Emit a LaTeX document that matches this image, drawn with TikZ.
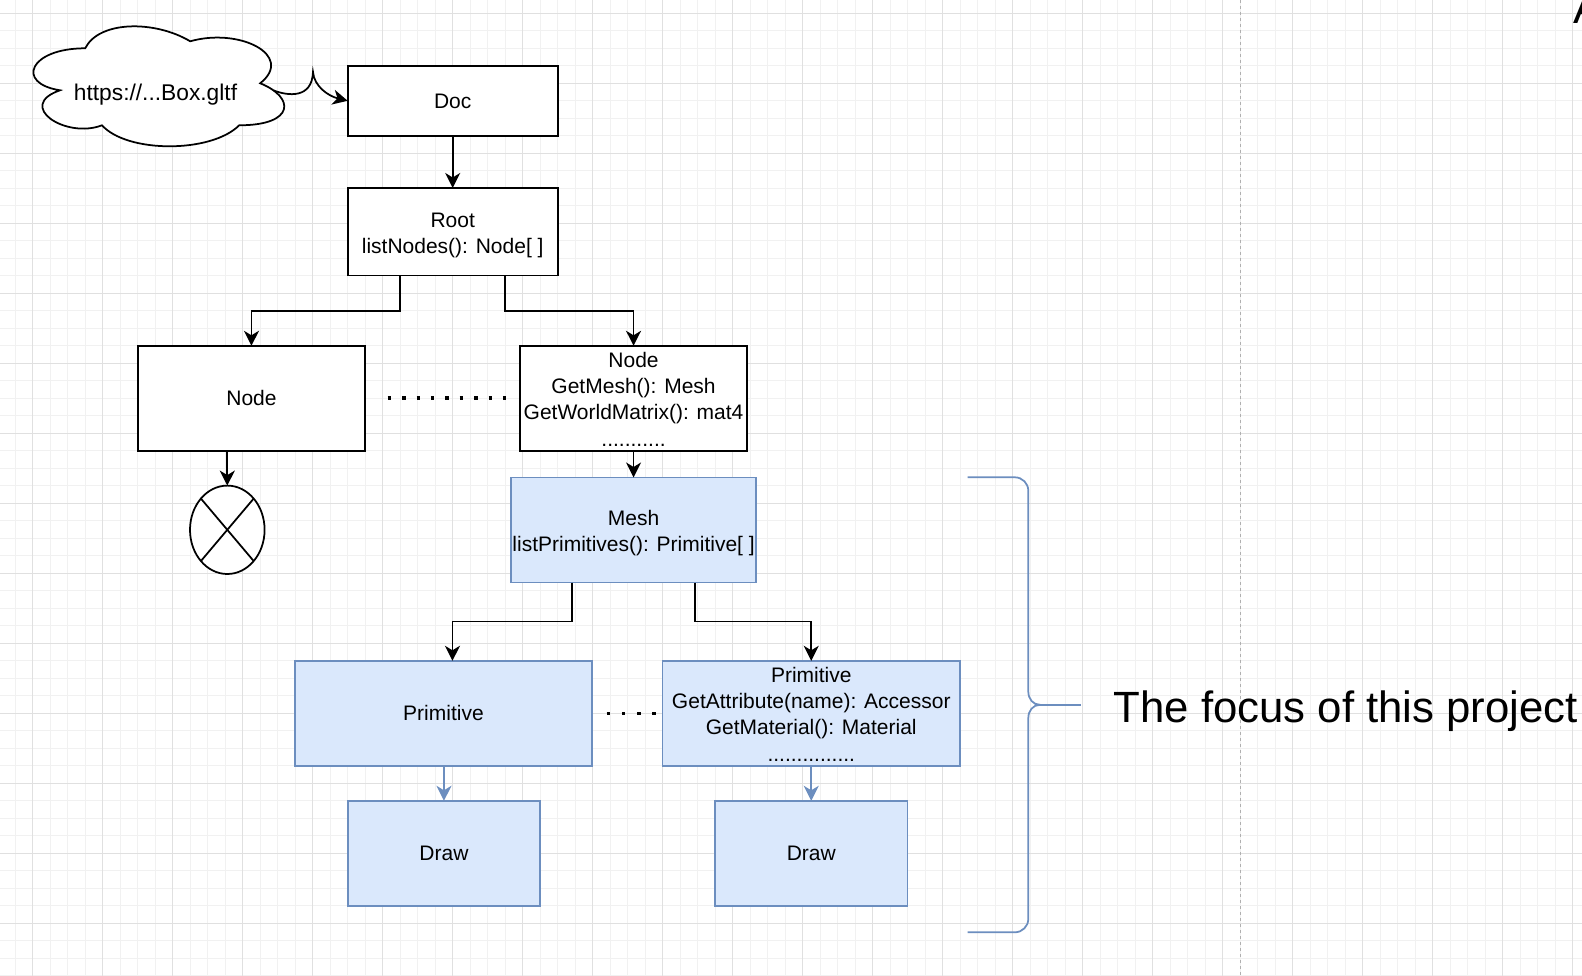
\documentclass[tikz,border=0pt]{standalone}
\usepackage{fontspec}
\setmainfont{Liberation Sans}
\usetikzlibrary{arrows.meta,shapes.geometric}
\definecolor{bluefill}{HTML}{DAE8FC}
\definecolor{bluedraw}{HTML}{6C8EBF}
\definecolor{gridminor}{HTML}{F1F1F1}
\definecolor{gridmajor}{HTML}{E0E0E0}
\definecolor{pagebreak}{HTML}{B0B0B0}
\newcommand{\mlstrut}{\rule[-3.9pt]{0pt}{25.7pt}}
\newcommand{\slstrut}{\rule[-5.2pt]{0pt}{25.7pt}}
\tikzset{
  box/.style={draw=black, line width=1.75pt, fill=white, inner sep=0pt, outer sep=0pt,
    anchor=north west, align=center, text=black, font=\fontsize{21}{25.7}\selectfont},
  bluebox/.style={box, draw=bluedraw, fill=bluefill},
  conn/.style={draw=black, line width=1.75pt, -{Stealth[length=15pt,width=15pt,inset=4.5pt]}},
  blueconn/.style={conn, draw=bluedraw},
  dotline/.style={draw=black, line width=3.5pt, dash pattern=on 3.5pt off 10.9pt},
  dotlinetwo/.style={draw=black, line width=3.5pt, dash pattern=on 3.5pt off 11.8pt},
  bracestyle/.style={draw=bluedraw, line width=1.75pt},
  minorline/.style={draw=gridminor, line width=1pt},
  majorline/.style={draw=gridmajor, line width=1pt},
}
\begin{document}
\begin{tikzpicture}[x=1pt,y=-1pt]
\useasboundingbox (0,0) rectangle (1582,976);
\fill[white] (0,0) rectangle (1582,976);
% grid
\foreach \i in {0,...,89} \draw[minorline] ({15.2+17.5*\i},0) -- ({15.2+17.5*\i},976);
\foreach \j in {0,...,55} \draw[minorline] (0,{13.3+17.5*\j}) -- (1582,{13.3+17.5*\j});
\foreach \i in {0,...,22} \draw[majorline] ({32.7+70*\i},0) -- ({32.7+70*\i},976);
\foreach \j in {0,...,13} \draw[majorline] (0,{13.3+70*\j}) -- (1582,{13.3+70*\j});
\draw[pagebreak, line width=1pt, dash pattern=on 3pt off 3pt] (1240.5,0) -- (1240.5,976);

% cloud
\draw[line width=1.75pt, fill=white] (85.2,48.3)
  .. controls (29.2,48.3) and (15.2,83.3) .. (60,90.3)
  .. controls (15.2,105.7) and (65.6,139.3) .. (102,125.3)
  .. controls (127.2,153.3) and (211.2,153.3) .. (239.2,125.3)
  .. controls (295.2,125.3) and (295.2,97.3) .. (260.2,83.3)
  .. controls (295.2,55.3) and (239.2,27.3) .. (190.2,41.3)
  .. controls (155.2,20.3) and (99.2,20.3) .. (85.2,48.3) -- cycle;
\node[anchor=base, inner sep=0pt, font=\fontsize{22.75}{27}\selectfont] (cloud) at (155.5,101) {https://...Box.gltf};
\coordinate (cloudout) at (273.5,90.4);

% boxes
\node[box, minimum width=210pt, minimum height=70pt] (doc) at (347.7,65.8) {\slstrut Doc};
\node[box, minimum width=210pt, minimum height=87.5pt] (root) at (347.7,188) {\mlstrut Root\\listNodes(): Node[ ]\mlstrut};
\node[box, minimum width=227.5pt, minimum height=105pt] (nodeL) at (137.7,345.8) {\slstrut Node};
\node[box, minimum width=227.5pt, minimum height=105pt] (nodeR) at (519.8,345.8) {\mlstrut Node\\GetMesh(): Mesh\\GetWorldMatrix(): mat4\\...........\mlstrut};
\node[ellipse, draw=black, fill=white, line width=1.75pt, inner sep=0pt, outer sep=0pt,
  minimum width=74.6pt, minimum height=88.4pt] (ell) at (227.3,529.8) {};
\draw[line width=1.75pt] ([shift={(-26.4,-31.25)}]ell.center) -- ([shift={(26.4,31.25)}]ell.center);
\draw[line width=1.75pt] ([shift={(26.4,-31.25)}]ell.center) -- ([shift={(-26.4,31.25)}]ell.center);
\node[bluebox, minimum width=245pt, minimum height=105pt] (mesh) at (511.1,477.5) {\mlstrut Mesh\\listPrimitives(): Primitive[ ]\mlstrut};
\node[bluebox, minimum width=297.5pt, minimum height=105pt] (primL) at (294.7,660.8) {\slstrut Primitive};
\node[bluebox, minimum width=297.5pt, minimum height=105pt] (primR) at (662.5,660.8) {\mlstrut Primitive\\GetAttribute(name): Accessor\\GetMaterial(): Material\\...............\mlstrut};
\node[bluebox, minimum width=192.5pt, minimum height=105pt] (drawL) at (347.7,800.8) {\slstrut Draw};
\node[bluebox, minimum width=192.5pt, minimum height=105pt] (drawR) at (715,800.8) {\slstrut Draw};

% connectors
\draw[conn] (cloudout) .. controls (288,96) and (312,99) .. (313,72)
  .. controls (314,86) and (328,96) .. (doc.west);
\draw[conn] (doc.south) -- (root.north);
\draw[conn] ([xshift=-52.5pt]root.south) -- ++(0,35.4) -| (nodeL.north);
\draw[conn] ([xshift=52.5pt]root.south) -- ++(0,35.4) -| (nodeR.north);
\draw[conn] (nodeL.south -| ell.north) -- (ell.north);
\draw[conn] (nodeR.south) -- (nodeR.south |- mesh.north);
\draw[conn] ([xshift=-61.25pt]mesh.south) -- ++(0,39.1) -| ([xshift=9pt]primL.north);
\draw[conn] ([xshift=61.25pt]mesh.south) -- ++(0,39.1) -| (primR.north);
\draw[blueconn] (drawL.north |- primL.south) -- (drawL.north);
\draw[blueconn] (primR.south) -- (drawR.north);
\draw[dotline] ([xshift=22.5pt,yshift=0.5pt]nodeL.east) -- ([xshift=-13.5pt,yshift=0.5pt]nodeR.west);
\draw[dotlinetwo] ([xshift=14.3pt]primL.east) -- ([xshift=-6.5pt]primR.west);

% brace
\draw[bracestyle] (967.5,477.3) -- (1014.8,477.3)
  .. controls (1022.3,477.3) and (1028.3,483.3) .. (1028.3,490.8) -- (1028.3,691.5)
  .. controls (1028.3,699) and (1033,704.8) .. (1040,704.8)
  .. controls (1033,704.8) and (1028.3,710.6) .. (1028.3,718.1) -- (1028.3,918.8)
  .. controls (1028.3,926.3) and (1022.3,932.3) .. (1014.8,932.3) -- (967.5,932.3);
\draw[bracestyle] (1040,704.8) -- (1081,704.8);
\node[anchor=base west, inner sep=0pt, font=\fontsize{43.75}{52}\selectfont] (focus) at (1113.3,722.7) {The focus of this project};

% cut-off letter at the top right edge, as in the reference
\begin{scope}
\clip (0,0) rectangle (1582,976);
\node[anchor=base west, inner sep=0pt, font=\fontsize{43.75}{52}\selectfont] (cut) at (1573,23.3) {A};
\end{scope}
\end{tikzpicture}
\end{document}
